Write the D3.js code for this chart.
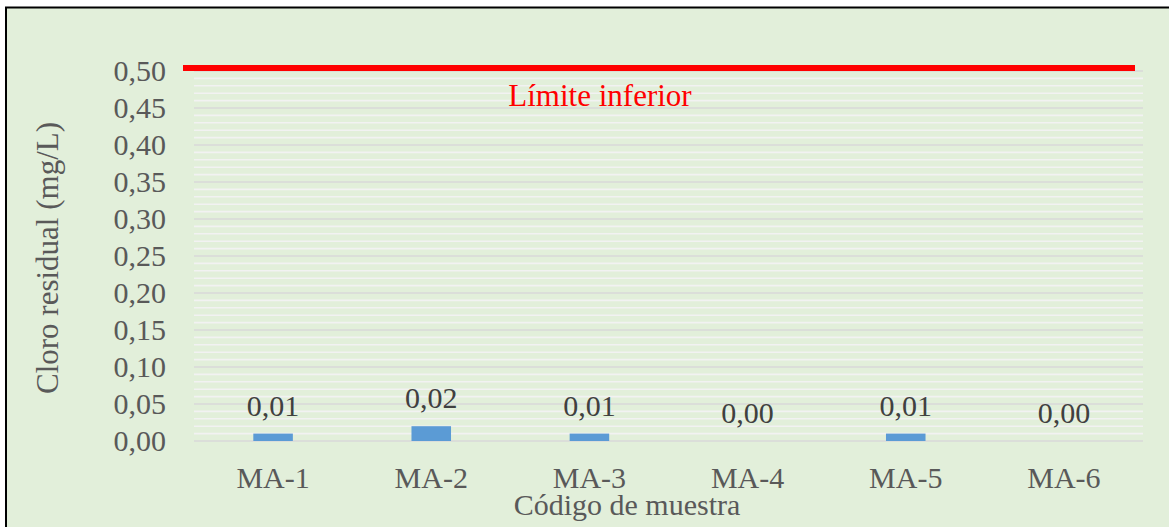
<!DOCTYPE html>
<html>
<head>
    <meta charset="utf-8">
    <title>Cloro residual</title>
    <style>
        body { margin: 0; background: #fff; }
        text { font-family: "Liberation Serif", "Times New Roman", serif; }
    </style>
</head>
<body>
    <svg></svg>
    <script src="https://d3js.org/d3.v7.min.js"></script>
    <script>
        // datos
        const categories = ['MA-1', 'MA-2', 'MA-3', 'MA-4', 'MA-5', 'MA-6'];
        const values = [0.01, 0.02, 0.01, 0.00, 0.01, 0.00];
        const yTicks = [0, 0.05, 0.10, 0.15, 0.20, 0.25, 0.30, 0.35, 0.40, 0.45, 0.50];
        const limite = 0.50;
        const limiteLabel = 'Límite inferior';

        const width = 1169;
        const height = 527;
        const margin = { top: 71, right: 26, bottom: 86, left: 194 };
        const innerWidth = width - margin.left - margin.right;
        const innerHeight = height - margin.top - margin.bottom;
        const fmt = v => d3.format('.2f')(v).replace('.', ',');

        const svg = d3.select('svg').attr('width', width).attr('height', height);

        // marco
        svg.append('rect').attr('x', 5).attr('y', 7)
            .attr('width', width - 5).attr('height', height - 7)
            .attr('fill', '#e2efda');
        svg.append('path').attr('d', `M6,${height} V7.5 H${width}`)
            .attr('fill', 'none').attr('stroke', '#000').attr('stroke-width', 2);

        const g = svg.append('g').attr('transform', `translate(${margin.left},${margin.top})`);

        const xScale = d3.scaleBand().domain(categories).range([0, innerWidth])
            .paddingInner(0.75).paddingOuter(0.375);
        const yScale = d3.scaleLinear().domain([0, 0.5]).range([innerHeight, 0]);

        // rejilla menor y mayor
        g.append('g').selectAll('line').data(d3.range(0, 51).filter(i => i % 5 !== 0))
            .join('line')
            .attr('x1', 0).attr('x2', innerWidth)
            .attr('y1', i => yScale(i / 100)).attr('y2', i => yScale(i / 100))
            .attr('stroke', '#f2f2f2').attr('stroke-width', 1.6);
        g.append('g').selectAll('line').data(yTicks).join('line')
            .attr('x1', 0).attr('x2', innerWidth)
            .attr('y1', d => yScale(d)).attr('y2', d => yScale(d))
            .attr('stroke', '#d9d9d9').attr('stroke-width', 1.6);

        // eje y
        const yAxis = g.append('g')
            .call(d3.axisLeft(yScale).tickValues(yTicks).tickFormat(fmt).tickSize(0).tickPadding(28))
            .attr('font-size', 30).attr('font-family', '"Liberation Serif", serif');
        yAxis.select('.domain').remove();
        yAxis.selectAll('text').attr('fill', '#595959');

        // eje x
        const xAxis = g.append('g').attr('transform', `translate(0,${innerHeight})`)
            .call(d3.axisBottom(xScale).tickSize(0).tickPadding(26))
            .attr('font-size', 30).attr('font-family', '"Liberation Serif", serif');
        xAxis.select('.domain').remove();
        xAxis.selectAll('text').attr('fill', '#595959');

        // barras
        g.selectAll('rect.bar').data(values).join('rect').attr('class', 'bar')
            .attr('x', (d, i) => xScale(categories[i]))
            .attr('y', d => yScale(d))
            .attr('width', xScale.bandwidth())
            .attr('height', d => innerHeight - yScale(d))
            .attr('fill', '#5b9bd5');

        g.selectAll('text.val').data(values).join('text').attr('class', 'val')
            .attr('x', (d, i) => xScale(categories[i]) + xScale.bandwidth() / 2)
            .attr('y', d => yScale(d) - 18)
            .attr('text-anchor', 'middle')
            .attr('font-size', 30).attr('fill', '#404040')
            .text(fmt);

        // límite
        g.append('line')
            .attr('x1', -11).attr('x2', innerWidth - 8)
            .attr('y1', yScale(limite) - 3).attr('y2', yScale(limite) - 3)
            .attr('stroke', '#ff0000').attr('stroke-width', 6);
        g.append('text').attr('x', 600 - margin.left).attr('y', yScale(limite) + 35)
            .attr('text-anchor', 'middle').attr('font-size', 31).attr('fill', '#ff0000')
            .text(limiteLabel);

        // títulos
        svg.append('text').attr('transform', 'translate(58,258) rotate(-90)')
            .attr('text-anchor', 'middle').attr('font-size', 31).attr('fill', '#595959')
            .text('Cloro residual (mg/L)');
        svg.append('text').attr('x', 627).attr('y', 515)
            .attr('text-anchor', 'middle').attr('font-size', 30).attr('fill', '#595959')
            .text('Código de muestra');
    </script>
</body>
</html>
